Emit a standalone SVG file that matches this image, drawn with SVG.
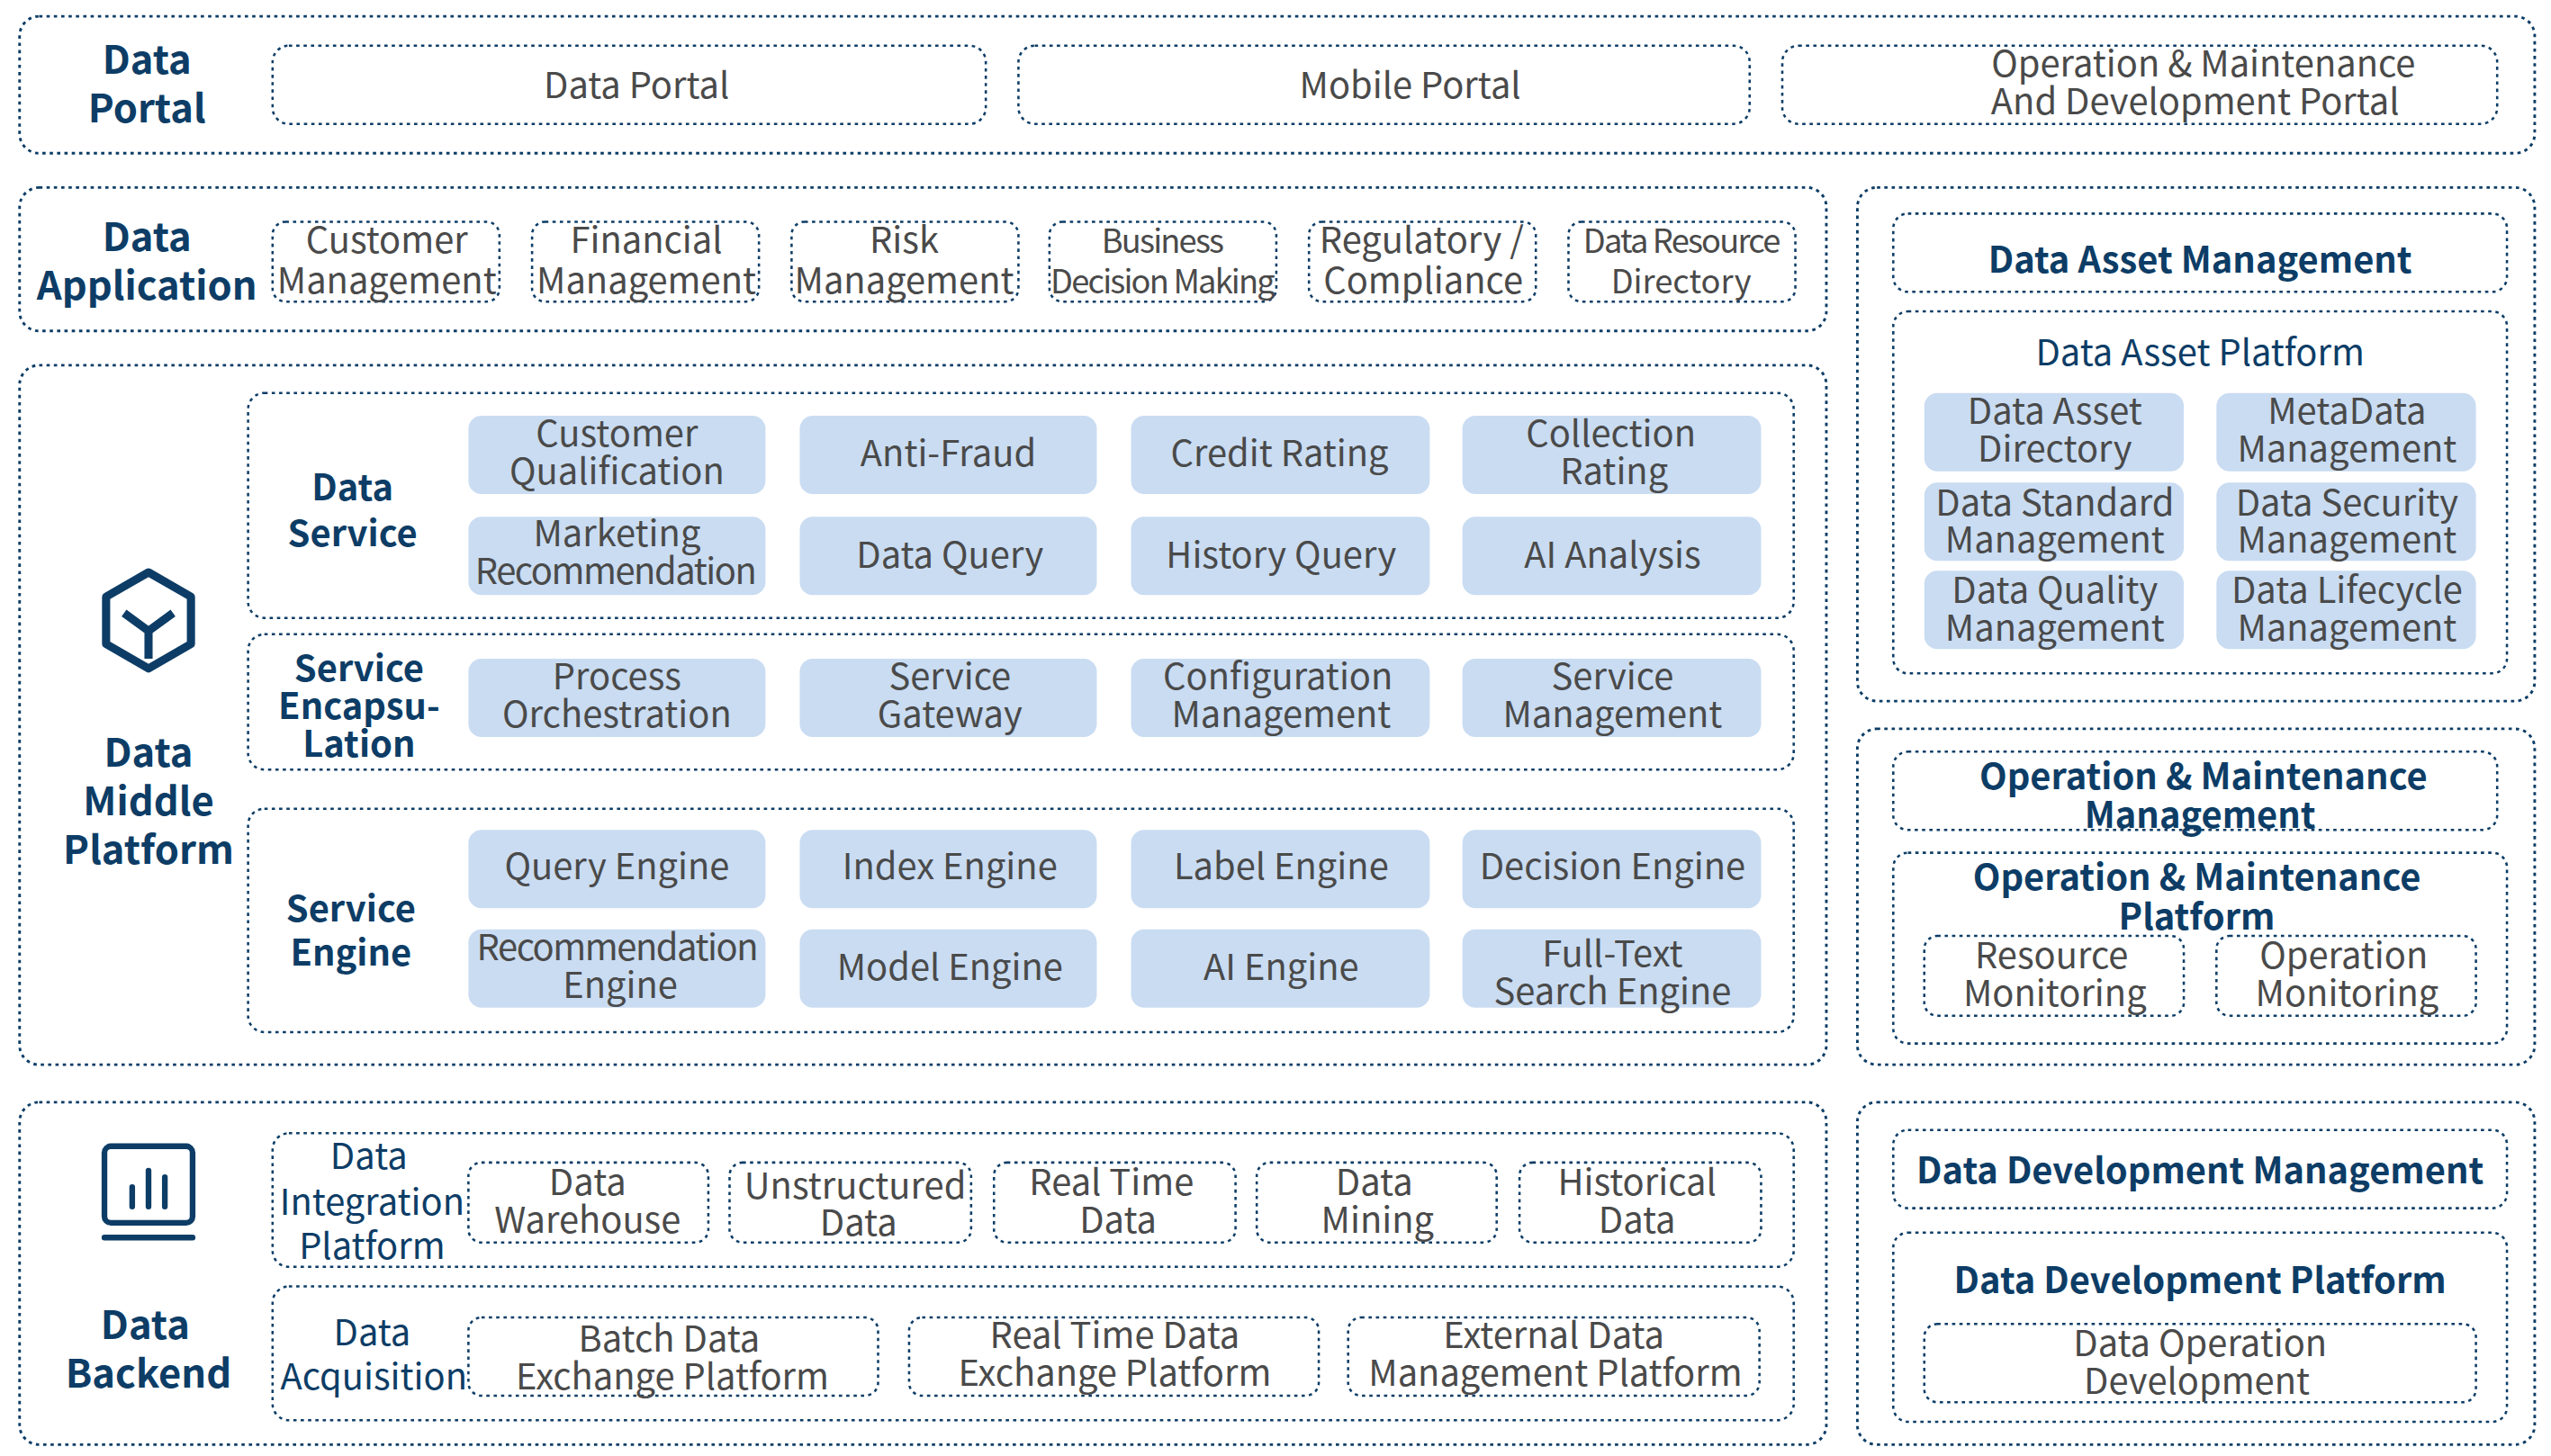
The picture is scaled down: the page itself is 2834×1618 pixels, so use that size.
<svg xmlns="http://www.w3.org/2000/svg" width="2834" height="1618" viewBox="0 0 2834 1618">
<style>
.o{fill:none;stroke:#0d3d66;stroke-width:1.6;stroke-dasharray:2 2.5}
.d{fill:#fff;stroke:#0d3d66;stroke-width:1.4;stroke-dasharray:2 2.5}
.b{fill:#c9dcf2}
text{font-family:"Noto Sans CJK SC","Noto Sans",sans-serif;text-anchor:middle}
.t{fill:#4a4a4a;font-size:22px}
.h{fill:#0d3d66;font-size:24px;font-weight:bold}
.s{fill:#0d3d66;font-size:22px;font-weight:bold}
</style>
<rect width="2834" height="1618" fill="#fff"/>
<g transform="scale(1.8132,1.8119)">
<g id="portal">
<rect class="o" x="12" y="10" width="1541" height="84" rx="12"/>
<text class="h" x="90" y="45">Data</text><text class="h" x="90" y="75">Portal</text>
<rect class="d" x="167" y="28" width="437" height="48" rx="10"/><text class="t" x="390" y="60">Data Portal</text>
<rect class="d" x="624" y="28" width="448" height="48" rx="10"/><text class="t" x="864" y="60">Mobile Portal</text>
<rect class="d" x="1092" y="28" width="438" height="48" rx="10"/><text class="t" x="1350" y="47">Operation &amp; Maintenance</text><text class="t" x="1345" y="70">And Development Portal</text>
</g>
<g id="application">
<rect class="o" x="12" y="115" width="1107" height="88" rx="12"/>
<text class="h" x="90" y="154">Data</text><text class="h" x="90" y="184">Application</text>
<g class="t">
<rect class="d" x="167" y="136" width="139" height="49" rx="8"/><text x="237" y="155" class="t">Customer</text><text x="237" y="180" class="t">Management</text>
<rect class="d" x="326" y="136" width="139" height="49" rx="8"/><text x="396" y="155" class="t">Financial</text><text x="396" y="180" class="t">Management</text>
<rect class="d" x="485" y="136" width="139" height="49" rx="8"/><text x="554" y="155" class="t">Risk</text><text x="554" y="180" class="t">Management</text>
<rect class="d" x="643" y="136" width="139" height="49" rx="8"/><text x="712" y="155" class="t" style="font-size:20px;letter-spacing:-1px">Business</text><text x="712" y="180" class="t" style="font-size:20px;letter-spacing:-1px">Decision Making</text>
<rect class="d" x="802" y="136" width="139" height="49" rx="8"/><text x="871" y="155" class="t">Regulatory /</text><text x="872" y="180" class="t">Compliance</text>
<rect class="d" x="961" y="136" width="139" height="49" rx="8"/><text x="1030" y="155" class="t" style="font-size:20px;letter-spacing:-1px">Data Resource</text><text x="1030" y="180" class="t" style="font-size:20px">Directory</text>
</g>
</g>
<g id="middle">
<rect class="o" x="12" y="224" width="1107" height="429" rx="12"/>
<path d="M91 351 L117 366 L117 395 L91 410 L65 395 L65 366 Z M76 376 L91 387 L106 376 M91 387 L91 404" fill="none" stroke="#0d3d66" stroke-width="5" stroke-linejoin="round"/>
<text class="h" x="91" y="470">Data</text><text class="h" x="91" y="500">Middle</text><text class="h" x="91" y="530">Platform</text>
<rect class="d" x="152" y="241" width="947" height="138" rx="10"/>
<text class="s" x="216" y="307">Data</text><text class="s" x="216" y="335">Service</text>
<rect class="d" x="152" y="389" width="947" height="83" rx="10"/>
<text class="s" x="220" y="418">Service</text><text class="s" x="220" y="441">Encapsu-</text><text class="s" x="220" y="464">Lation</text>
<rect class="d" x="152" y="496" width="947" height="137" rx="10"/>
<text class="s" x="215" y="565">Service</text><text class="s" x="215" y="592">Engine</text>
<g>
<rect class="b" x="287" y="255" width="182" height="48" rx="8"/><text class="t" x="378" y="274">Customer</text><text class="t" x="378" y="297">Qualification</text>
<rect class="b" x="490" y="255" width="182" height="48" rx="8"/><text class="t" x="581" y="286">Anti-Fraud</text>
<rect class="b" x="693" y="255" width="183" height="48" rx="8"/><text class="t" x="784" y="286">Credit Rating</text>
<rect class="b" x="896" y="255" width="183" height="48" rx="8"/><text class="t" x="987" y="274">Collection</text><text class="t" x="989" y="297">Rating</text>
<rect class="b" x="287" y="317" width="182" height="48" rx="8"/><text class="t" x="378" y="335">Marketing</text><text class="t" x="377" y="358" style="letter-spacing:-0.8px">Recommendation</text>
<rect class="b" x="490" y="317" width="182" height="48" rx="8"/><text class="t" x="582" y="348">Data Query</text>
<rect class="b" x="693" y="317" width="183" height="48" rx="8"/><text class="t" x="785" y="348">History Query</text>
<rect class="b" x="896" y="317" width="183" height="48" rx="8"/><text class="t" x="988" y="348">AI Analysis</text>
<rect class="b" x="287" y="404" width="182" height="48" rx="8"/><text class="t" x="378" y="423">Process</text><text class="t" x="378" y="446">Orchestration</text>
<rect class="b" x="490" y="404" width="182" height="48" rx="8"/><text class="t" x="582" y="423">Service</text><text class="t" x="582" y="446">Gateway</text>
<rect class="b" x="693" y="404" width="183" height="48" rx="8"/><text class="t" x="783" y="423">Configuration</text><text class="t" x="785" y="446">Management</text>
<rect class="b" x="896" y="404" width="183" height="48" rx="8"/><text class="t" x="988" y="423">Service</text><text class="t" x="988" y="446">Management</text>
<rect class="b" x="287" y="509" width="182" height="48" rx="8"/><text class="t" x="378" y="539">Query Engine</text>
<rect class="b" x="490" y="509" width="182" height="48" rx="8"/><text class="t" x="582" y="539">Index Engine</text>
<rect class="b" x="693" y="509" width="183" height="48" rx="8"/><text class="t" x="785" y="539">Label Engine</text>
<rect class="b" x="896" y="509" width="183" height="48" rx="8"/><text class="t" x="988" y="539">Decision Engine</text>
<rect class="b" x="287" y="570" width="182" height="48" rx="8"/><text class="t" x="378" y="589" style="letter-spacing:-0.8px">Recommendation</text><text class="t" x="380" y="612">Engine</text>
<rect class="b" x="490" y="570" width="182" height="48" rx="8"/><text class="t" x="582" y="601">Model Engine</text>
<rect class="b" x="693" y="570" width="183" height="48" rx="8"/><text class="t" x="785" y="601">AI  Engine</text>
<rect class="b" x="896" y="570" width="183" height="48" rx="8"/><text class="t" x="988" y="593">Full-Text</text><text class="t" x="988" y="616">Search Engine</text>
</g>
</g>
<g id="backend">
<rect class="o" x="12" y="676" width="1107" height="210" rx="12"/>
<rect x="64" y="703" width="54" height="47" rx="4" fill="none" stroke="#0d3d66" stroke-width="3.5"/>
<path d="M81 728 V740 M91 718 V740 M101 722 V740 M64 759 H118" stroke="#0d3d66" stroke-width="3.5" stroke-linecap="round"/>
<text class="h" x="89" y="821">Data</text><text class="h" x="91" y="851">Backend</text>
<rect class="d" x="167" y="695" width="932" height="82" rx="10"/>
<text class="s" x="226" y="717" style="font-weight:normal">Data</text><text class="s" x="228" y="745" style="font-weight:normal">Integration</text><text class="s" x="228" y="772" style="font-weight:normal">Platform</text>
<rect class="d" x="287" y="713" width="147" height="49" rx="8"/><text class="t" x="360" y="733">Data</text><text class="t" x="360" y="756">Warehouse</text>
<rect class="d" x="447" y="713" width="148" height="49" rx="8"/><text class="t" x="524" y="735">Unstructured</text><text class="t" x="526" y="758">Data</text>
<rect class="d" x="609" y="713" width="148" height="49" rx="8"/><text class="t" x="681" y="733">Real Time</text><text class="t" x="685" y="756">Data</text>
<rect class="d" x="770" y="713" width="147" height="49" rx="8"/><text class="t" x="842" y="733">Data</text><text class="t" x="844" y="756">Mining</text>
<rect class="d" x="931" y="713" width="148" height="49" rx="8"/><text class="t" x="1003" y="733">Historical</text><text class="t" x="1003" y="756">Data</text>
<rect class="d" x="167" y="789" width="932" height="82" rx="10"/>
<text class="s" x="228" y="825" style="font-weight:normal">Data</text><text class="s" x="229" y="852" style="font-weight:normal">Acquisition</text>
<rect class="d" x="287" y="808" width="251" height="48" rx="8"/><text class="t" x="410" y="829">Batch Data</text><text class="t" x="412" y="852">Exchange Platform</text>
<rect class="d" x="557" y="808" width="251" height="48" rx="8"/><text class="t" x="683" y="827">Real Time Data</text><text class="t" x="683" y="850">Exchange Platform</text>
<rect class="d" x="826" y="808" width="252" height="48" rx="8"/><text class="t" x="952" y="827">External Data</text><text class="t" x="953" y="850">Management Platform</text>
</g>
<g id="asset">
<rect class="o" x="1138" y="115" width="415" height="315" rx="12"/>
<rect class="d" x="1160" y="131" width="376" height="48" rx="9"/><text class="s" x="1348" y="167">Data Asset Management</text>
<rect class="d" x="1160" y="191" width="376" height="222" rx="9"/><text class="t" x="1348" y="224" style="fill:#0d3d66">Data Asset Platform</text>
<rect class="b" x="1179" y="241" width="159" height="48" rx="8"/><text class="t" x="1259" y="260">Data Asset</text><text class="t" x="1259" y="283">Directory</text>
<rect class="b" x="1358" y="241" width="159" height="48" rx="8"/><text class="t" x="1438" y="260">MetaData</text><text class="t" x="1438" y="283">Management</text>
<rect class="b" x="1179" y="296" width="159" height="48" rx="8"/><text class="t" x="1259" y="316">Data Standard</text><text class="t" x="1259" y="339">Management</text>
<rect class="b" x="1358" y="296" width="159" height="48" rx="8"/><text class="t" x="1438" y="316">Data Security</text><text class="t" x="1438" y="339">Management</text>
<rect class="b" x="1179" y="350" width="159" height="48" rx="8"/><text class="t" x="1259" y="370">Data Quality</text><text class="t" x="1259" y="393">Management</text>
<rect class="b" x="1358" y="350" width="159" height="48" rx="8"/><text class="t" x="1438" y="370">Data Lifecycle</text><text class="t" x="1438" y="393">Management</text>
</g>
<g id="om">
<rect class="o" x="1138" y="447" width="415" height="206" rx="12"/>
<rect class="d" x="1160" y="461" width="370" height="48" rx="9"/><text class="s" x="1350" y="484">Operation &amp; Maintenance</text><text class="s" x="1348" y="508">Management</text>
<rect class="d" x="1160" y="523" width="376" height="117" rx="9"/><text class="s" x="1346" y="546">Operation &amp; Maintenance</text><text class="s" x="1346" y="570">Platform</text>
<rect class="d" x="1179" y="574" width="159" height="49" rx="8"/><text class="t" x="1257" y="594">Resource</text><text class="t" x="1259" y="617">Monitoring</text>
<rect class="d" x="1358" y="574" width="159" height="49" rx="8"/><text class="t" x="1436" y="594">Operation</text><text class="t" x="1438" y="617">Monitoring</text>
</g>
<g id="dev">
<rect class="o" x="1138" y="676" width="415" height="210" rx="12"/>
<rect class="d" x="1160" y="693" width="376" height="48" rx="9"/><text class="s" x="1348" y="726">Data Development Management</text>
<rect class="d" x="1160" y="756" width="376" height="116" rx="9"/><text class="s" x="1348" y="793">Data Development Platform</text>
<rect class="d" x="1179" y="812" width="338" height="48" rx="8"/><text class="t" x="1348" y="832">Data Operation</text><text class="t" x="1346" y="855">Development</text>
</g>
<g id="connectors"/>
</g>
</svg>
